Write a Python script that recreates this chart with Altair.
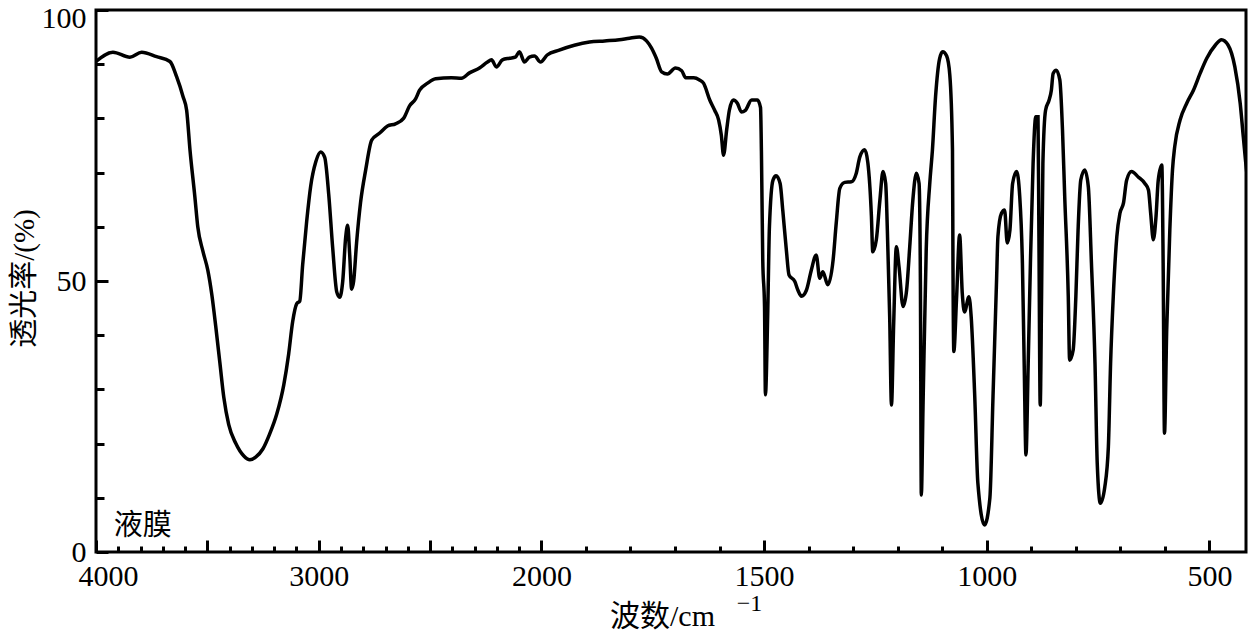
import altair as alt
import pandas as pd

# ---- data (wavenumber cm-1, transmittance %) ----
wavenumber = [
    4000, 3924, 3848, 3795, 3728, 3668, 3638, 3609, 3593, 3578, 3556, 3543, 3520, 3498, 3480,
    3462, 3444, 3426, 3404, 3372, 3336, 3309, 3283, 3251, 3220, 3188, 3157, 3135, 3117, 3099,
    3085, 3072, 3054, 3036, 3013, 2991, 2973, 2955, 2937, 2919, 2906, 2892, 2879, 2870, 2861,
    2852, 2843, 2830, 2812, 2789, 2762, 2726, 2691, 2655, 2619, 2592, 2565, 2547, 2511, 2475,
    2404, 2359, 2323, 2278, 2242, 2224, 2202, 2175, 2143, 2117, 2099, 2076, 2054, 2031, 2004,
    1987, 1960, 1926, 1892, 1858, 1825, 1802, 1780, 1764, 1753, 1742, 1730, 1717, 1699, 1685,
    1676, 1658, 1645, 1636, 1622, 1611, 1602, 1596, 1591, 1584, 1578, 1569, 1560, 1551, 1542,
    1528, 1515, 1508, 1506, 1503, 1499, 1497, 1492, 1488, 1480, 1473, 1464, 1458, 1450, 1444,
    1431, 1424, 1416, 1405, 1394, 1383, 1375, 1368, 1357, 1345, 1338, 1330, 1319, 1304, 1293,
    1285, 1274, 1267, 1259, 1256, 1248, 1240, 1233, 1227, 1222, 1218, 1214, 1209, 1203, 1197,
    1188, 1180, 1173, 1166, 1158, 1152, 1149, 1147, 1143, 1136, 1128, 1122, 1115, 1106, 1099,
    1090, 1083, 1077, 1076, 1074, 1068, 1061, 1055, 1050, 1040, 1035, 1027, 1020, 1005, 993,
    986, 978, 975, 967, 960, 954, 948, 942, 933, 926, 920, 916, 912, 907, 902,
    896, 890, 885, 883, 880, 877, 874, 868, 860, 855, 851, 844, 836, 830, 825,
    817, 814, 806, 800, 795, 789, 780, 772, 765, 757, 752, 745, 735, 727, 722,
    716, 708, 701, 693, 686, 675, 660, 645, 637, 632, 626, 620, 615, 607, 604,
    601, 596, 589, 583, 578, 566, 551, 536, 521, 506, 487, 473, 458, 443, 431,
    424, 415, 405, 400,
]
transmittance = [
    90.5, 92.2, 91.3, 92.2, 91.4, 90.5, 87.7, 84.0, 81.5, 74.2, 65.5, 60.0, 55.5, 52.0, 47.5,
    41.5, 35.0, 28.5, 23.5, 20.0, 17.7, 17.0, 17.5, 19.0, 21.8, 25.5, 30.8, 36.5, 42.5, 45.8,
    46.3, 53.0, 61.0, 67.5, 72.0, 73.8, 72.8, 66.0, 56.0, 48.0, 47.0, 50.0, 58.0, 60.3, 55.0,
    48.5, 50.0, 57.0, 64.5, 70.5, 76.0, 77.3, 78.6, 79.0, 80.0, 82.3, 83.6, 85.2, 86.5, 87.3,
    87.5, 87.4, 88.4, 89.3, 90.4, 90.8, 89.5, 90.8, 91.1, 91.3, 92.3, 90.4, 91.3, 91.5, 90.4,
    91.7, 92.6, 93.5, 94.1, 94.3, 94.5, 94.8, 95.0, 94.3, 93.0, 91.1, 88.6, 88.2, 89.3, 88.8,
    87.5, 87.5, 87.1, 86.5, 83.4, 81.5, 79.7, 76.9, 73.2, 77.9, 81.5, 83.4, 82.8, 81.2, 81.5,
    83.4, 83.4, 82.0, 74.0, 53.9, 45.3, 29.0, 43.4, 60.0, 68.6, 69.4, 68.0, 63.0, 55.7, 51.1,
    49.9, 48.3, 47.2, 48.3, 52.0, 54.8, 50.5, 51.7, 49.3, 53.9, 60.7, 67.1, 68.2, 68.3, 69.9,
    72.9, 74.2, 71.8, 61.9, 55.4, 57.6, 64.9, 70.2, 68.0, 55.7, 43.4, 27.1, 42.2, 56.3, 52.6,
    45.3, 48.3, 56.3, 64.9, 69.9, 68.0, 49.6, 10.5, 27.5, 55.7, 68.0, 74.2, 84.0, 91.0, 92.3,
    91.5, 88.0, 74.2, 55.0, 37.0, 46.5, 58.5, 47.7, 44.3, 47.1, 43.4, 28.7, 12.7, 5.0, 10.0,
    28.7, 50.2, 58.2, 62.5, 63.1, 57.0, 59.4, 68.0, 70.2, 65.6, 53.3, 34.8, 17.9, 34.8, 53.3,
    71.7, 80.3, 80.3, 59.4, 27.1, 47.1, 71.7, 81.5, 83.4, 85.2, 88.3, 88.9, 87.1, 77.9, 65.6,
    47.1, 35.4, 37.3, 47.1, 59.4, 68.6, 70.5, 67.4, 53.3, 34.8, 16.4, 9.0, 12.0, 19.4, 34.8,
    47.1, 58.2, 62.5, 64.4, 68.6, 70.2, 69.2, 68.0, 66.8, 62.5, 57.6, 61.9, 68.6, 71.4, 53.3,
    21.9, 41.0, 59.4, 70.5, 74.8, 79.7, 82.8, 85.2, 88.3, 91.1, 93.5, 94.5, 93.5, 89.5, 82.8,
    76.6, 69.2, 65.9, 64.8,
]

x_labels = [4000, 3000, 2000, 1500, 1000, 500]
x_major_ticks = [4000, 3500, 3000, 2500, 2000, 1500, 1000, 500]
x_minor_ticks = [v for v in range(3900, 400, -100) if v % 500 != 0]
y_labels = [0, 50, 100]
y_minor_ticks = [10, 20, 30, 40, 60, 70, 80, 90]

note_wn = [3790]
note_t = [4.8]
note_text = ["液膜"]

x_title = "波数/cm"
x_title_sup = "−1"
y_title = "透光率/(%)"

# ---- layout ----
W, H = 1150, 542
PX_HIGH = 445.4                 # pixels for 4000 -> 2000
PER_CM_LOW = (1158 - PX_HIGH) / 1600.0
X_END = 2000 - (W - PX_HIGH) / PER_CM_LOW
FONT = "Liberation Serif, DejaVu Serif, serif"
CJK = "Liberation Serif, Noto Sans CJK SC, serif"

xscale = alt.Scale(domain=[4000, 2000, X_END], range=[0, PX_HIGH, W], nice=False, zero=False)
yscale = alt.Scale(domain=[0, 100], nice=False, zero=False)

df = pd.DataFrame({"wn": wavenumber, "T": transmittance})
base = alt.Chart(df)

line = base.mark_line(color="black", strokeWidth=3.5, interpolate="monotone", clip=True).encode(
    x=alt.X("wn:Q", scale=xscale, axis=alt.Axis(
        orient="bottom", values=x_labels, format="d", ticks=False, domain=False, grid=False,
        labelFont=FONT, labelFontSize=30, labelColor="black", labelPadding=9,
        labelFlush=True, labelFlushOffset=18,
        title=x_title, titleFont=CJK, titleFontSize=30, titleFontWeight="normal",
        titleColor="black", titleX=566, titleY=64, titleAlign="center", titleBaseline="middle")),
    y=alt.Y("T:Q", scale=yscale, axis=alt.Axis(
        orient="left", values=y_labels, format="d", ticks=False, domain=False, grid=False,
        labelFont=FONT, labelFontSize=30, labelColor="black", labelPadding=10,
        labelOffset={"condition": {"test": "datum.value == 100", "value": 8}, "value": 0},
        title=y_title, titleFont=CJK, titleFontSize=29, titleFontWeight="normal",
        titleColor="black", titleX=-72, titleY=268, titleAngle=270,
        titleAlign="center", titleBaseline="middle")),
)

major = base.mark_line(opacity=0).encode(
    x=alt.X("wn:Q", scale=xscale, axis=alt.Axis(
        orient="bottom", values=x_major_ticks, labels=False, domain=False, grid=False,
        tickSize=12, tickWidth=3, tickColor="black", offset=-12,
        title=x_title_sup, titleFont=FONT, titleFontSize=24, titleFontWeight="normal",
        titleColor="black", titleX=653, titleY=63, titleAlign="center", titleBaseline="middle")),
    y=alt.Y("T:Q", scale=yscale, axis=alt.Axis(
        orient="left", values=y_labels, labels=False, domain=False, grid=False,
        tickSize=12, tickWidth=3, tickColor="black", offset=-12, title=None)),
)

minor = base.mark_line(opacity=0).encode(
    x=alt.X("wn:Q", scale=xscale, axis=alt.Axis(
        orient="bottom", values=x_minor_ticks, labels=False, domain=False, grid=False,
        tickSize=6, tickWidth=3, tickColor="black", offset=-6, title=None)),
    y=alt.Y("T:Q", scale=yscale, axis=alt.Axis(
        orient="left", values=y_minor_ticks, labels=False, domain=False, grid=False,
        tickSize=8, tickWidth=3, tickColor="black", offset=-8, title=None)),
)

notes = alt.Chart(pd.DataFrame({"wn": note_wn, "T": note_t, "text": note_text})).mark_text(
    font="Noto Sans CJK SC", fontSize=29, color="black", align="center", baseline="middle"
).encode(
    x=alt.X("wn:Q", scale=xscale, axis=None),
    y=alt.Y("T:Q", scale=yscale, axis=None),
    text="text:N",
)

chart = alt.layer(line, major, minor, notes).resolve_axis(
    x="independent", y="independent"
).properties(
    width=W, height=H,
    autosize=alt.AutoSizeParams(type="none"),
    padding={"left": 88, "top": 2, "right": 2, "bottom": 78},
    background="white",
).configure_view(stroke="black", strokeWidth=3)

chart.save("out.html", embed_options={"renderer": "svg", "actions": False})
